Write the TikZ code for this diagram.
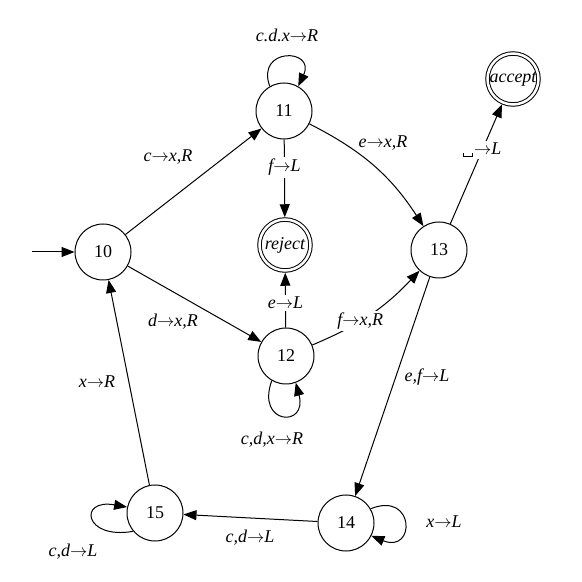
\documentclass[tikz,border=0pt]{standalone}
\usepackage{fontspec}
\setmainfont{Liberation Serif}
\usetikzlibrary{arrows.meta}
\newcommand{\tto}{\ensuremath{\rightarrow}}
\newcommand{\vsp}{\raisebox{-2pt}{\hbox{\vrule width .7pt height 4pt depth 0pt\vrule width 8.5pt height .7pt depth 0pt\vrule width .7pt height 4pt depth 0pt}}\hspace{1pt}}
\tikzset{
  st/.style={circle, draw, line width=1pt, minimum size=56pt, inner sep=0pt, font=\fontsize{18}{20}\selectfont},
  fin/.style={st, double, double distance=2.5pt, minimum size=51pt, outer sep=2.25pt, font=\fontsize{18}{20}\selectfont\itshape},
  edge/.style={line width=1pt, -{Triangle[length=13pt,width=10pt]}},
  lbl/.style={font=\fontsize{18}{20}\selectfont\itshape, inner sep=1pt},
  onl/.style={lbl, fill=white, inner sep=2pt},
}
\begin{document}
\begin{tikzpicture}[x=1pt,y=1pt]
\useasboundingbox (0,0) rectangle (582,582);
\node[st] (n10) at (103,330) {10};
\node[st] (n11) at (284,471) {11};
\node[fin] (rej) at (285,337) {reject};
\node[st] (n13) at (439,332) {13};
\node[st] (n12) at (286,226) {12};
\node[st] (n14) at (346,59) {14};
\node[st] (n15) at (155,69) {15};
\node[fin] (acc) at (513,503) {accept};
\coordinate (start) at (32,330);

\draw[edge] (start) -- (n10);
\draw[edge] (n10) -- (n11);
\draw[edge] (n10) -- (n12);
\draw[edge] (n11) -- node[onl, pos=.36] {f\tto L} (rej);
\draw[edge] (n12) -- node[onl, pos=.45] {e\tto L} (rej);
\draw[edge] (n11) to[bend left=15] (n13);
\draw[edge] (n12) to[bend right=12] node[onl, pos=.4] {f\tto x,R} (n13);
\draw[edge] (n13) -- node[onl, pos=.62] {\vsp\tto L} (acc);
\draw[edge] (n13) -- (n14);
\draw[edge] (n14) -- (n15);
\draw[edge] (n15) -- (n10);

\draw[edge] (n11.120) .. controls +(110:42) and +(65:42) .. (n11.60);
\draw[edge] (n12.240) .. controls +(250:47) and +(285:47) .. (n12.290);
\draw[edge] (n14.30) .. controls +(22:48) and +(-22:48) .. (n14.-27);
\draw[edge] (n15.220) .. controls +(190:50) and +(170:50) .. (n15.168);

\node[lbl] (l1) at (287,547) {c.d.x\tto R};
\node[lbl] (l2) at (168,425) {c\tto x,R};
\node[lbl] (l3) at (383,439) {e\tto x,R};
\node[lbl] (l4) at (173,260) {d\tto x,R};
\node[lbl] (l5) at (97,200) {x\tto R};
\node[lbl] (l6) at (73,30) {c,d\tto L};
\node[lbl] (l7) at (272,142) {c,d,x\tto R};
\node[lbl] (l8) at (427,205) {e,f\tto L};
\node[lbl] (l9) at (444,60) {x\tto L};
\node[lbl] (l10) at (250,44) {c,d\tto L};
\end{tikzpicture}
\end{document}
